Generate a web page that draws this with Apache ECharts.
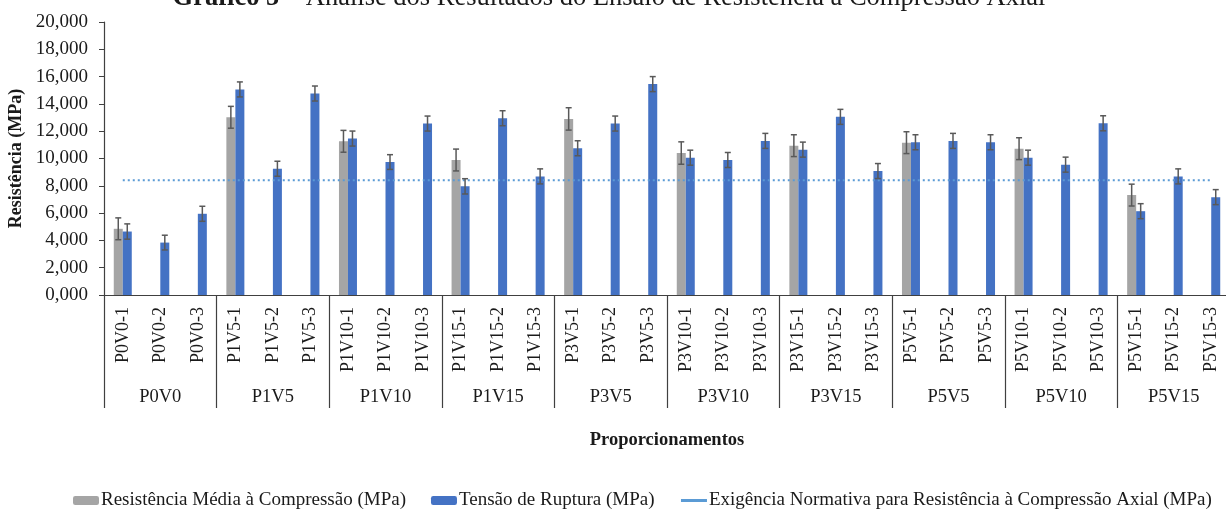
<!DOCTYPE html>
<html>
<head>
<meta charset="utf-8">
<script src="https://cdn.jsdelivr.net/npm/echarts@6/dist/echarts.min.js"></script>
<style>
  html, body { margin: 0; padding: 0; background: #fff; }
  #chart { width: 1226px; height: 516px; }
</style>
</head>
<body>
<div id="chart"></div>
<script>
// grupos e corpos de prova
const groups = ['P0V0', 'P1V5', 'P1V10', 'P1V15', 'P3V5', 'P3V10', 'P3V15', 'P5V5', 'P5V10', 'P5V15'];
const samples = [
  'P0V0-1', 'P0V0-2', 'P0V0-3', 'P1V5-1', 'P1V5-2', 'P1V5-3',
  'P1V10-1', 'P1V10-2', 'P1V10-3', 'P1V15-1', 'P1V15-2', 'P1V15-3',
  'P3V5-1', 'P3V5-2', 'P3V5-3', 'P3V10-1', 'P3V10-2', 'P3V10-3',
  'P3V15-1', 'P3V15-2', 'P3V15-3', 'P5V5-1', 'P5V5-2', 'P5V5-3',
  'P5V10-1', 'P5V10-2', 'P5V10-3', 'P5V15-1', 'P5V15-2', 'P5V15-3'
];

// resistência média (só no primeiro de cada grupo)
const mediaValues = [
  4.85, null, null, 13.02, null, null, 11.26, null, null, 9.89, null, null,
  12.90, null, null, 10.40, null, null, 10.94, null, null, 11.16, null, null,
  10.72, null, null, 7.32, null, null
];
const mediaErr = [
  0.80, null, null, 0.80, null, null, 0.80, null, null, 0.80, null, null,
  0.82, null, null, 0.82, null, null, 0.80, null, null, 0.80, null, null,
  0.80, null, null, 0.80, null, null
];

// tensão de ruptura
const rupturaValues = [
  4.65, 3.84, 5.95, 15.06, 9.25, 14.76, 11.46, 9.74, 12.56, 7.96, 12.95, 8.69,
  10.75, 12.56, 15.45, 10.06, 9.89, 11.29, 10.65, 13.05, 9.08, 11.19, 11.29, 11.19,
  10.06, 9.55, 12.58, 6.14, 8.69, 7.17
];
const rupturaErr = [
  0.56, 0.54, 0.55, 0.55, 0.55, 0.55, 0.55, 0.54, 0.55, 0.56, 0.55, 0.55,
  0.55, 0.55, 0.55, 0.55, 0.55, 0.55, 0.55, 0.55, 0.55, 0.55, 0.55, 0.55,
  0.55, 0.55, 0.55, 0.55, 0.55, 0.55
];

const normLimit = 8.4;
const yTicks = { min: 0, max: 20, interval: 2 };

const nameMedia = 'Resistência Média à Compressão (MPa)';
const nameRuptura = 'Tensão de Ruptura (MPa)';
const nameNorma = 'Exigência Normativa para Resistência à Compressão Axial (MPa)';

const FONT = '"Liberation Serif", "DejaVu Serif", serif';
const BAR_W = 9;

const errData = (vals, errs) => vals
  .map((v, i) => (v == null ? null : [i, v, errs[i]]))
  .filter(d => d);

const errorSeries = (vals, errs, shift) => ({
  type: 'custom',
  xAxisIndex: 0,
  z: 5,
  silent: true,
  data: errData(vals, errs),
  renderItem: (params, api) => {
    const i = api.value(0), v = api.value(1), e = api.value(2);
    const hi = api.coord([i, v + e]);
    const lo = api.coord([i, v - e]);
    const x = hi[0] + shift;
    const cap = 3;
    const style = { stroke: '#595959', lineWidth: 1.5 };
    return {
      type: 'group',
      children: [
        { type: 'line', shape: { x1: x, y1: hi[1], x2: x, y2: lo[1] }, style },
        { type: 'line', shape: { x1: x - cap, y1: hi[1], x2: x + cap, y2: hi[1] }, style },
        { type: 'line', shape: { x1: x - cap, y1: lo[1], x2: x + cap, y2: lo[1] }, style }
      ]
    };
  }
});

const chart = echarts.init(document.getElementById('chart'));
chart.setOption({
  animation: false,
  textStyle: { fontFamily: FONT, color: '#1a1a1a' },
  title: {
    text: '{b|Gráfico 5} – Análise dos Resultados do Ensaio de Resistência à Compressão Axial',
    left: 604,
    textAlign: 'center',
    top: -20,
    textStyle: {
      fontFamily: FONT, fontSize: 26.5, fontWeight: 'normal', color: '#1a1a1a',
      rich: { b: { fontFamily: FONT, fontSize: 26.5, fontWeight: 'bold', color: '#1a1a1a' } }
    }
  },
  grid: { left: 104, right: -4, top: 22, bottom: 221, containLabel: false, outerBoundsMode: 'none' },
  legend: {
    left: 68,
    bottom: 1,
    itemWidth: 26,
    itemHeight: 9,
    itemGap: 25,
    textStyle: { fontFamily: FONT, fontSize: 19, color: '#1a1a1a', padding: [0, 0, 0, -3] },
    data: [
      { name: nameMedia },
      { name: nameRuptura },
      { name: nameNorma, lineStyle: { type: 'solid', width: 3 }, itemStyle: { opacity: 0 } }
    ]
  },
  xAxis: [
    {
      type: 'category',
      data: samples,
      position: 'bottom',
      axisLine: { lineStyle: { color: '#404040', width: 1.2 } },
      axisTick: { show: false },
      axisLabel: { interval: 0, rotate: 90, margin: 12, fontSize: 18, color: '#1a1a1a' },
      name: 'Proporcionamentos',
      nameLocation: 'middle',
      nameGap: 136,
      nameTextStyle: { fontFamily: FONT, fontSize: 18.5, fontWeight: 'bold', color: '#1a1a1a' }
    },
    {
      type: 'category',
      data: groups,
      position: 'bottom',
      axisLine: { show: false },
      axisTick: { show: true, interval: 0, length: 113, lineStyle: { color: '#404040', width: 1.2 } },
      axisLabel: { interval: 0, margin: 93, fontSize: 18.5, color: '#1a1a1a' },
      splitLine: { show: false }
    }
  ],
  yAxis: {
    type: 'value',
    min: yTicks.min,
    max: yTicks.max,
    interval: yTicks.interval,
    name: 'Resistência (MPa)',
    nameLocation: 'middle',
    nameGap: 77,
    nameTextStyle: { fontFamily: FONT, fontSize: 18, fontWeight: 'bold', color: '#1a1a1a' },
    axisLine: { show: true, lineStyle: { color: '#404040', width: 1.2 } },
    axisTick: { show: true, length: 5, lineStyle: { color: '#404040' } },
    axisLabel: {
      fontSize: 19, margin: 16, color: '#1a1a1a',
      formatter: v => v.toFixed(3).replace('.', ',')
    },
    splitLine: { show: false }
  },
  series: [
    {
      name: nameMedia,
      type: 'bar',
      xAxisIndex: 0,
      data: mediaValues,
      barWidth: BAR_W,
      barGap: 0,
      itemStyle: { color: '#A5A5A5' }
    },
    {
      name: nameRuptura,
      type: 'bar',
      xAxisIndex: 0,
      data: rupturaValues,
      barWidth: BAR_W,
      barGap: 0,
      itemStyle: { color: '#4472C4' }
    },
    {
      name: nameNorma,
      type: 'line',
      xAxisIndex: 0,
      data: samples.map(() => normLimit),
      symbol: 'none',
      z: 4,
      lineStyle: { color: '#5B9BD5', width: 2, type: [2, 3] },
      itemStyle: { color: '#5B9BD5' }
    },
    errorSeries(mediaValues, mediaErr, -BAR_W / 2),
    errorSeries(rupturaValues, rupturaErr, BAR_W / 2)
  ]
});
</script>
</body>
</html>
